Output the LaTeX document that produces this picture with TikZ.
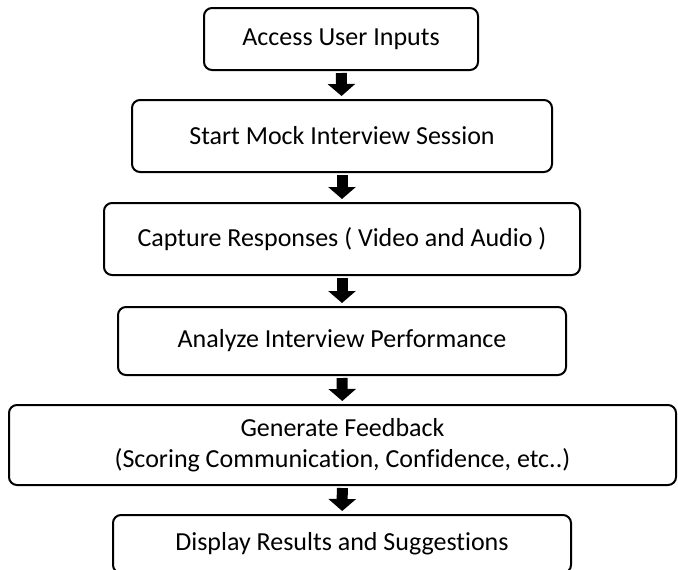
\documentclass[tikz,border=0pt]{standalone}
\usepackage{fontspec}
\setmainfont{Carlito}[Ligatures={NoCommon}]
\usetikzlibrary{arrows.meta,positioning}

\begin{document}
\begin{tikzpicture}[
    x=1pt, y=-1pt,
    proc/.style={draw, line width=2pt, rounded corners=8pt, align=center, inner sep=0pt, font=\fontsize{26}{31}\selectfont},
    blk/.style={line width=11pt, -{Triangle[width=27pt, length=12pt]}, shorten <=2pt, shorten >=3pt}
]
\useasboundingbox (0,0) rectangle (678,570);

\node[proc, minimum width=274pt, minimum height=62pt] (access) at (341, 39) {Access User Inputs};
\node[proc, minimum width=420pt, minimum height=72pt] (start) at (342, 136) {Start Mock Interview Session};
\node[proc, minimum width=476pt, minimum height=72pt] (capture) at (342, 239) {Capture Responses ( Video and Audio )};
\node[proc, minimum width=448pt, minimum height=68pt] (analyze) at (342, 341) {Analyze Interview Performance};
\node[proc, minimum width=667pt, minimum height=80pt] (feedback) at (342.5, 445) {Generate Feedback\\(Scoring Communication, Confidence, etc..)};
\node[proc, minimum width=458pt, minimum height=58pt] (display) at (342, 544) {Display Results and Suggestions};

\draw[blk] (access) -- (start);
\draw[blk] (start) -- (capture);
\draw[blk] (capture) -- (analyze);
\draw[blk] (analyze) -- (feedback);
\draw[blk] (feedback) -- (display);
\end{tikzpicture}
\end{document}
